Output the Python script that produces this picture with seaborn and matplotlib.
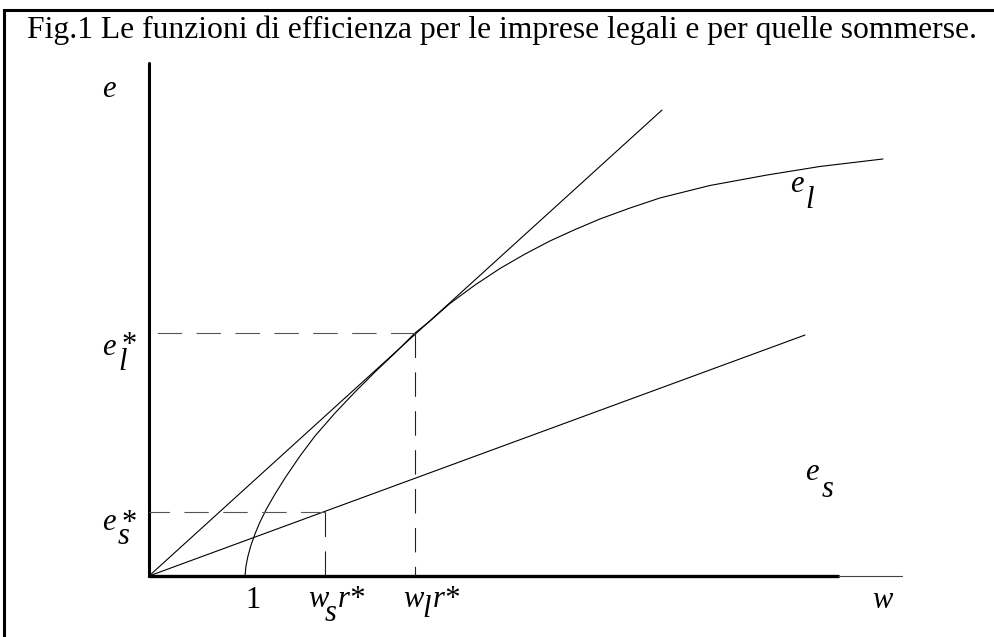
import numpy as np
import matplotlib
matplotlib.use("Agg")
import matplotlib.pyplot as plt
import seaborn as sns

# chart values, in units of the diagram (w on x, e on y)
tangent_w = [0, 5.344]
tangent_e = [0, 4.854]

es_w = [0, 6.833]
es_e = [0, 2.510]

el_w = [1.000, 1.010, 1.031, 1.063, 1.104, 1.156, 1.229, 1.313, 1.417, 1.573,
        1.729, 1.938, 2.146, 2.354, 2.563, 2.771, 2.927, 3.135, 3.396, 3.656,
        3.917, 4.177, 4.438, 4.698, 5.010, 5.323, 5.844, 6.438, 6.990, 7.646]
el_e = [0.000, 0.104, 0.208, 0.323, 0.438, 0.563, 0.708, 0.854, 1.021, 1.250,
        1.458, 1.698, 1.917, 2.125, 2.323, 2.531, 2.656, 2.839, 3.031, 3.203,
        3.354, 3.490, 3.609, 3.719, 3.833, 3.938, 4.068, 4.177, 4.266, 4.344]

# optimum points (w*, e*)
wl_star, el_star = 2.771, 2.531
ws_star, es_star = 1.833, 0.667

# axis extents
y_axis_top = 5.344
x_axis_end = 7.177
x_axis_ext = 7.844

title = "Fig.1 Le funzioni di efficienza per le imprese legali e per quelle sommerse."

sns.set_theme(style="white")
plt.rcParams['font.family'] = ['Liberation Serif', 'DejaVu Serif']

fig = plt.figure(figsize=(9.95, 6.37), dpi=100)
ax = fig.add_axes([0, 0, 1, 1])
ax.set_xlim(-149 / 96, (995 - 149) / 96)
ax.set_ylim(-(637 - 576) / 96, 576 / 96)
ax.axis('off')


def line(x, y, **kw):
    sns.lineplot(x=x, y=y, ax=ax, estimator=None, sort=False, **kw)


# axes of the diagram
line([0, 0], [0, y_axis_top], color='black', linewidth=2.2)
line([0, x_axis_end], [0, 0], color='black', linewidth=2.4)
line([x_axis_end, x_axis_ext], [0, 0], color='#444444', linewidth=0.8)

# curves
line(tangent_w, tangent_e, color='black', linewidth=0.8)
line(es_w, es_e, color='black', linewidth=0.8)
line(el_w, el_e, color='black', linewidth=0.8)

# dashed guides from the points to the axes
dash = (0, (22, 13))
line([wl_star, 0], [el_star, el_star], color='#555555', linewidth=0.8, linestyle=dash)
line([wl_star, wl_star], [el_star, 0], color='#222222', linewidth=0.8, linestyle=dash)
line([ws_star, 0], [es_star, es_star], color='#555555', linewidth=0.8, linestyle=dash)
line([ws_star, ws_star], [es_star, 0], color='#222222', linewidth=0.8, linestyle=dash)

# labels
it = dict(fontsize=22, fontstyle='italic', color='black', va='baseline', ha='left')
ax.text(-0.49, 4.99, "e", **it)
ax.text(7.53, -0.333, "w", **it)
ax.text(1.083, -0.333, "1", fontsize=22, color='black', va='baseline', ha='center')

ax.text(6.677, 4.0, "e", **it)
ax.text(6.833, 3.833, "l", **it)
ax.text(6.833, 1.0, "e", **it)
ax.text(7.01, 0.823, "s", **it)

ax.text(-0.49, 2.302, "e", **it)
ax.text(-0.29, 2.55, "*", fontsize=22, color='black', va='top', ha='left')
ax.text(-0.323, 2.15, "l", **it)
ax.text(-0.49, 0.479, "e", **it)
ax.text(-0.29, 0.70, "*", fontsize=22, color='black', va='top', ha='left')
ax.text(-0.323, 0.33, "s", **it)

ax.text(1.656, -0.323, "w", **it)
ax.text(1.833, -0.469, "s", **it)
ax.text(1.969, -0.323, "r*", **it)
ax.text(2.646, -0.323, "w", **it)
ax.text(2.844, -0.427, "l", **it)
ax.text(2.958, -0.323, "r*", **it)

# title and frame
fig.text(27 / 995, 1 - 38 / 637, title, fontsize=22.8, color='black', va='baseline', ha='left')
fig.add_artist(plt.Line2D([4 / 995, 4 / 995], [0, 1 - 10 / 637], transform=fig.transFigure,
                          color='black', linewidth=2.2))
fig.add_artist(plt.Line2D([4 / 995, 1], [1 - 10 / 637, 1 - 10 / 637], transform=fig.transFigure,
                          color='black', linewidth=2.2, solid_capstyle='projecting'))

fig.savefig("out.png", dpi=100)
